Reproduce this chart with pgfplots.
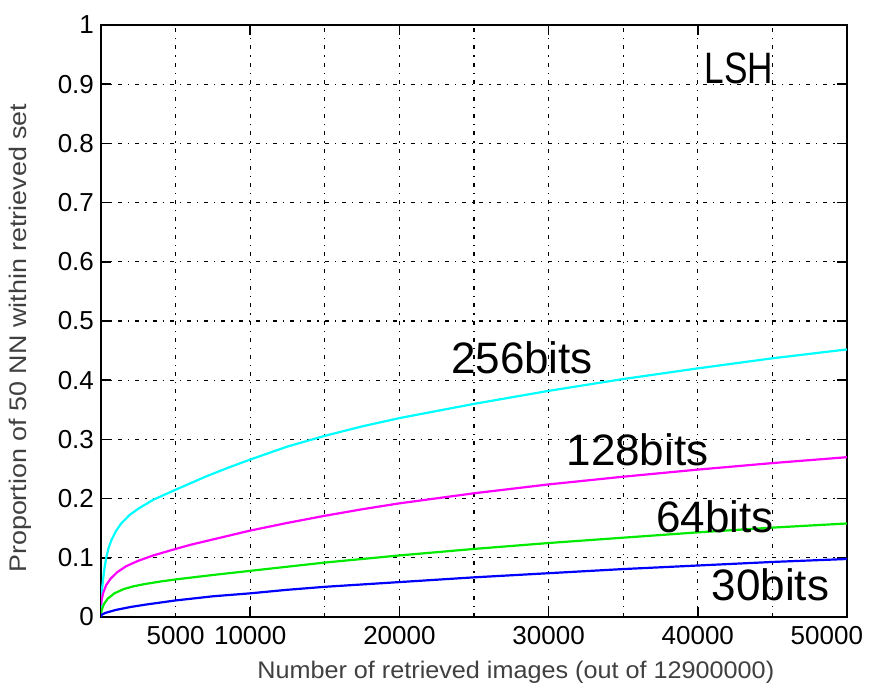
\documentclass[border=0pt]{standalone}
\usepackage{pgfplots}
\pgfplotsset{compat=1.18}
\usepackage{graphicx}
\usepackage{fontspec}
\setmainfont{Liberation Sans}
\begin{document}
\begin{tikzpicture}
\begin{axis}[
  name=ax,
  scale only axis,
  width=373pt, height=296pt,
  xmin=0, xmax=50000, ymin=0, ymax=1,
  xtick={10000,20000,30000,40000,50000},
  xticklabels={10000,20000,30000,40000,\hbox to 0pt{\hss 50000\hskip -8pt}},
  extra x ticks={5000},
  extra x tick labels={5000},
  extra x tick style={grid=major, major tick length=0pt},
  minor xtick={15000,25000,35000,45000},
  ytick={0,0.1,...,1.0},
  yticklabels={0,0.1,0.2,0.3,0.4,0.5,0.6,0.7,0.8,0.9,1},
  scaled x ticks=false,
  /pgf/number format/1000 sep={},
  /pgf/number format/assume math mode=true,
  tick align=inside,
  major tick length=5pt,
  minor tick length=0pt,
  grid=both,
  major grid style={black, line width=0.6pt, dash pattern=on 2pt off 3pt on 0.6pt off 3pt},
  minor grid style={black, line width=0.6pt, dash pattern=on 2pt off 3pt on 0.6pt off 3pt},
  axis line style={black, line width=0.9pt},
  tick style={black, line width=0.8pt},
  ticklabel style={font=\fontsize{13}{15}\selectfont},
  xticklabel style={yshift=-1pt},
  xlabel={\scalebox{1.05}[1]{Number of retrieved images (out of 12900000)}},
  ylabel={\scalebox{1.12}[1]{Proportion of 50 NN within retrieved set}},
  label style={font=\fontsize{12}{14}\selectfont, text=black!75},
  xlabel style={at={(axis description cs:0.556,-0.093)}, anchor=center},
  ylabel style={at={(axis description cs:-0.108,0.471)}, anchor=center},
  every axis plot/.append style={line width=1.1pt, mark=none, line join=round},
  clip=true,
]
% 256 bits
\addplot[color={rgb,255:red,0;green,255;blue,255}] coordinates {
(0,0.01)(25,0.03)(60,0.045)(134,0.062)(230,0.082)(350,0.100)(500,0.116)
(700,0.130)(1000,0.145)(1350,0.158)(1900,0.172)(2500,0.183)(3500,0.198)
(5000,0.215)(6000,0.226)(7000,0.237)(8500,0.252)(10000,0.266)(12500,0.288)
(15000,0.306)(17500,0.322)(20000,0.336)(25000,0.360)(30000,0.382)(35000,0.402)
(40000,0.420)(45000,0.437)(50000,0.452)};
% 128 bits
\addplot[color={rgb,255:red,255;green,0;blue,255}] coordinates {
(0,0.02)(50,0.03)(150,0.041)(350,0.054)(650,0.065)(1100,0.076)(1700,0.086)
(2500,0.095)(3500,0.104)(5000,0.115)(6000,0.122)(7500,0.131)(10000,0.146)
(12500,0.159)(15000,0.171)(17500,0.182)(20000,0.192)(25000,0.209)(30000,0.224)
(35000,0.237)(40000,0.249)(45000,0.260)(50000,0.270)};
% 64 bits
\addplot[color={rgb,255:red,0;green,235;blue,0}] coordinates {
(0,0.005)(50,0.012)(200,0.022)(450,0.031)(900,0.040)(1500,0.047)(2200,0.052)
(3000,0.056)(4000,0.060)(5000,0.0635)(7500,0.071)(10000,0.078)(12500,0.085)
(15000,0.092)(17500,0.098)(20000,0.104)(25000,0.115)(30000,0.125)(35000,0.134)
(40000,0.143)(45000,0.151)(50000,0.158)};
% 30 bits
\addplot[color={rgb,255:red,0;green,0;blue,255}] coordinates {
(0,0.0)(50,0.004)(300,0.007)(1000,0.012)(2000,0.017)(3000,0.021)(5000,0.028)
(7500,0.035)(10000,0.040)(12500,0.046)(15000,0.051)(17500,0.055)(20000,0.059)
(25000,0.067)(30000,0.074)(35000,0.081)(40000,0.087)(45000,0.093)(50000,0.098)};
\node[font=\fontsize{22}{24}\selectfont] at (axis cs:42760,0.927) {\scalebox{0.8}[1]{LSH}};
\node[font=\fontsize{22}{24}\selectfont] at (axis cs:28220,0.4375) {256bits};
\node[font=\fontsize{22}{24}\selectfont] at (axis cs:35960,0.282) {128bits};
\node[font=\fontsize{22}{24}\selectfont] at (axis cs:41150,0.169) {64bits};
\node[font=\fontsize{22}{24}\selectfont] at (axis cs:44870,0.054) {30bits};
\end{axis}
\pgfresetboundingbox
\path ([xshift=-50.5pt,yshift=-36.5pt]ax.south west) rectangle ([xshift=12.5pt,yshift=12.5pt]ax.north east);
\end{tikzpicture}
\end{document}
